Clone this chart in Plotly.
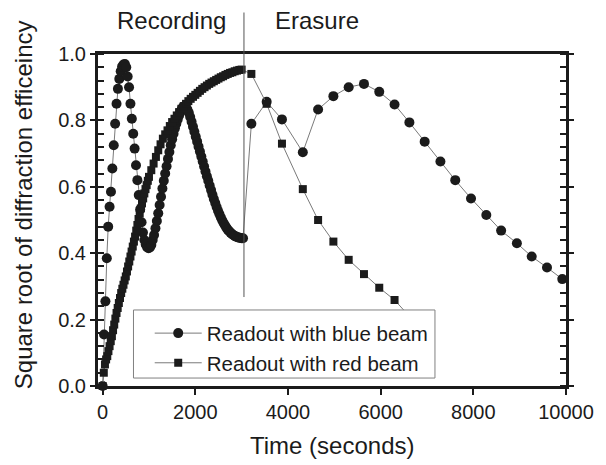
import plotly.graph_objects as go

# ---------------- data ----------------
# Readout with blue beam (circles): recording phase then erasure phase
blue_t = [0, 30, 60, 90, 120, 150, 180, 210, 240, 270, 300, 330, 360, 390, 420, 450, 480,
          510, 540, 570, 600, 630, 660, 690, 720, 750, 780, 810, 840, 870, 900, 930, 960,
          990, 1020, 1050, 1080, 1110, 1140, 1170, 1200, 1230, 1260, 1290, 1320, 1350,
          1380, 1410, 1440, 1470, 1500, 1530, 1560, 1590, 1620, 1650, 1680, 1710, 1740,
          1770, 1800, 1830, 1860, 1890, 1920, 1950, 1980, 2010, 2040, 2070, 2100, 2130,
          2160, 2190, 2220, 2250, 2280, 2310, 2340, 2370, 2400, 2430, 2460, 2490, 2520,
          2550, 2580, 2610, 2640, 2670, 2700, 2730, 2760, 2790, 2820, 2850, 2880, 2910,
          2940, 2970, 3000, 3030,
          3210, 3540, 3870, 4320, 4650, 4980, 5310, 5640, 5970, 6300, 6620, 6950, 7290,
          7610, 7950, 8280, 8600, 8940, 9260, 9590, 9920]
blue_y = [0.000, 0.155, 0.255, 0.385, 0.480, 0.540, 0.585, 0.655, 0.725, 0.790, 0.850, 0.895,
          0.925, 0.948, 0.962, 0.968, 0.970,
          0.960, 0.932, 0.900, 0.850, 0.805, 0.760, 0.715, 0.665, 0.620, 0.575, 0.532, 0.493,
          0.462, 0.440, 0.426, 0.418,
          0.415, 0.417, 0.425, 0.440, 0.455, 0.475, 0.497, 0.520, 0.545, 0.570, 0.595, 0.618,
          0.640, 0.662, 0.684, 0.705, 0.725, 0.743, 0.760, 0.776, 0.790, 0.803, 0.815, 0.826,
          0.835, 0.841,
          0.843, 0.840, 0.833, 0.823, 0.810, 0.796, 0.781, 0.766, 0.751, 0.736, 0.721, 0.706,
          0.691, 0.676, 0.661, 0.646, 0.632, 0.618, 0.604, 0.590, 0.576, 0.563, 0.551, 0.539,
          0.528, 0.518, 0.508, 0.499, 0.491, 0.484, 0.477, 0.471, 0.466, 0.462, 0.458, 0.455,
          0.452, 0.450, 0.448, 0.447, 0.446, 0.445, 0.445,
          0.790, 0.856, 0.803, 0.704, 0.833, 0.873, 0.900, 0.910, 0.886, 0.848, 0.794, 0.736,
          0.676, 0.620, 0.565, 0.515, 0.468, 0.430, 0.390, 0.357, 0.322]

# Readout with red beam (squares): recording phase then erasure phase
red_t = [0, 25, 50, 75, 100, 125, 150, 175, 200, 225, 250, 275, 300, 325, 350, 375, 400,
         425, 450, 475, 500, 525, 550, 575, 600, 625, 650, 675, 700, 725, 750, 775, 800,
         825, 850, 875, 900, 925, 950, 975, 1000,
         1050, 1100, 1150, 1200, 1250, 1300, 1350, 1400, 1450, 1500, 1550, 1600, 1650, 1700,
         1750, 1800, 1850, 1900, 1950, 2000, 2050, 2100, 2150, 2200, 2250, 2300, 2350, 2400,
         2450, 2500, 2550, 2600, 2650, 2700, 2750, 2800, 2850, 2900, 2950, 3000,
         3210, 3540, 3870, 4320, 4650, 4980, 5310, 5640, 5970, 6300, 6620, 6950]
red_y = [0.000, 0.040, 0.065, 0.080, 0.090, 0.105, 0.120, 0.135, 0.150, 0.168, 0.185, 0.203,
         0.220, 0.235, 0.250, 0.265, 0.280, 0.293, 0.305, 0.318, 0.330, 0.345, 0.360, 0.375,
         0.390, 0.405, 0.420, 0.435, 0.450, 0.468, 0.485, 0.503, 0.520, 0.535, 0.550, 0.565,
         0.580, 0.593, 0.605, 0.618, 0.630,
         0.650, 0.670, 0.690, 0.710, 0.728, 0.745, 0.758, 0.770, 0.783, 0.795, 0.805, 0.815,
         0.825, 0.835, 0.843, 0.850, 0.858, 0.865, 0.871, 0.877, 0.883, 0.889, 0.895, 0.900,
         0.905, 0.910, 0.914, 0.918, 0.922, 0.926, 0.930, 0.933, 0.937, 0.940, 0.943, 0.945,
         0.948, 0.950, 0.952, 0.953,
         0.940, 0.850, 0.730, 0.593, 0.500, 0.435, 0.380, 0.337, 0.296, 0.259, 0.210, 0.180]

series_names = ["Readout with blue beam", "Readout with red beam"]
phase_labels = ["Recording", "Erasure"]
phase_boundary = 3050
x_ticks = [0, 2000, 4000, 6000, 8000, 10000]
x_ticklabels = ["0", "2000", "4000", "6000", "8000", "10000"]
y_ticks = [0.0, 0.2, 0.4, 0.6, 0.8, 1.0]

FONT = "Liberation Sans, Arial, sans-serif"
INK = "#1b1b1b"

fig = go.Figure()
fig.add_trace(go.Scatter(
    x=blue_t, y=blue_y, mode="lines+markers", name=series_names[0],
    line=dict(color="#7a7a7a", width=1),
    marker=dict(symbol="circle", size=10, color=INK),
    cliponaxis=False))
fig.add_trace(go.Scatter(
    x=red_t, y=red_y, mode="lines+markers", name=series_names[1],
    line=dict(color="#7a7a7a", width=1),
    marker=dict(symbol="square", size=8, color=INK),
    cliponaxis=False))

# phase separator
fig.add_shape(type="line", xref="x", yref="paper",
              x0=phase_boundary, x1=phase_boundary, y0=0.268, y1=1.125,
              line=dict(color="#555", width=1))

# legend frame (covers the data beneath it, as in the original)
fig.add_shape(type="rect", xref="paper", yref="paper", layer="above",
              x0=0.0758, x1=0.72, y0=0.024, y1=0.229,
              fillcolor="white", line=dict(color="#808080", width=1))

fig.add_annotation(text=phase_labels[0], xref="x", yref="paper", x=1490, y=1.10,
                   yanchor="middle", showarrow=False,
                   font=dict(family=FONT, size=24, color=INK))
fig.add_annotation(text=phase_labels[1], xref="x", yref="paper", x=4620, y=1.10,
                   yanchor="middle", showarrow=False,
                   font=dict(family=FONT, size=24, color=INK))
fig.add_annotation(text="Square root of diffraction efficeincy", xref="paper", yref="paper",
                   x=-0.16, y=0.545, xanchor="center", yanchor="middle", textangle=-90,
                   showarrow=False, font=dict(family=FONT, size=24, color=INK))
fig.add_annotation(text="Time (seconds)", xref="paper", yref="paper",
                   x=0.5, y=-0.18, showarrow=False, xanchor="center", yanchor="middle",
                   font=dict(family=FONT, size=24, color=INK))

fig.update_layout(
    width=606, height=465,
    margin=dict(l=98, r=33, t=54, b=79),
    paper_bgcolor="white", plot_bgcolor="white",
    font=dict(family=FONT, color=INK),
    showlegend=True,
    legend=dict(x=0.1105, y=0.219, xanchor="left", yanchor="top",
                bgcolor="rgba(0,0,0,0)", borderwidth=0, itemwidth=47,
                font=dict(family=FONT, size=20.5, color=INK)),
    xaxis=dict(range=[-100, 10000], tickvals=x_ticks, ticktext=x_ticklabels,
               ticks="outside", ticklen=6, tickwidth=2, tickcolor=INK, showline=True,
               linewidth=3, linecolor=INK, mirror=True, showgrid=False, zeroline=False,
               tickfont=dict(family=FONT, size=20, color=INK)),
    yaxis=dict(range=[0, 1.0], tickvals=y_ticks, tickformat=".1f", ticks="outside",
               ticklen=5, tickwidth=2, tickcolor=INK, showline=True, linewidth=3,
               linecolor=INK, mirror="ticks", showgrid=False, zeroline=False,
               minor=dict(dtick=0.04, ticks="inside", ticklen=6, tickwidth=2,
                          tickcolor=INK, showgrid=False),
               tickfont=dict(family=FONT, size=20, color=INK)),
)

fig.write_html("out.html")
